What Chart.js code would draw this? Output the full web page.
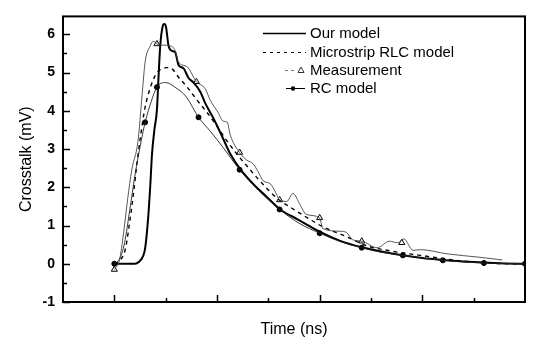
<!DOCTYPE html>
<html>
<head>
<meta charset="utf-8">
<script src="https://cdn.jsdelivr.net/npm/chart.js@4.4.1/dist/chart.umd.min.js"></script>
<style>
html,body{margin:0;padding:0;background:#fff;}
#wrap{position:relative;width:541px;height:352px;}
</style>
</head>
<body>
<div id="wrap"><canvas id="c" width="541" height="352"></canvas></div>
<script>
// ---- data ----
const seriesNames = ["Our model", "Microstrip RLC model", "Measurement", "RC model"];
const yTickValues = [-1, 0, 1, 2, 3, 4, 5, 6];

const ourX = [0, 0.1, 0.2, 0.24, 0.28, 0.3, 0.33, 0.35, 0.367, 0.39, 0.415, 0.43, 0.447, 0.47, 0.487, 0.503, 0.528, 0.561, 0.593, 0.625, 0.674, 0.723, 0.771, 0.837, 0.885, 0.966, 1.05, 1.13, 1.23, 1.355, 1.485, 1.615, 1.78, 1.91, 2.0, 2.2, 2.41, 2.6, 2.81, 3.0, 3.2, 3.4, 3.6, 3.8, 4.0];
const ourY = [0, 0, 0, 0.05, 0.2, 0.4, 1.22, 2.04, 2.87, 3.5, 4.03, 4.86, 5.7, 6.2, 6.27, 6.2, 5.7, 5.57, 5.53, 5.2, 5.11, 4.86, 4.74, 4.5, 4.2, 3.8, 3.33, 2.87, 2.46, 2.08, 1.75, 1.42, 1.17, 0.97, 0.84, 0.6, 0.43, 0.32, 0.22, 0.15, 0.1, 0.06, 0.03, 0.01, 0];

const rlcX = [0, 0.05, 0.107, 0.156, 0.188, 0.22, 0.253, 0.3, 0.35, 0.4, 0.45, 0.51, 0.565, 0.625, 0.71, 0.8, 0.89, 1.0, 1.1, 1.2, 1.3, 1.4, 1.5, 1.6, 1.75, 1.9, 2.03, 2.26, 2.46, 2.68, 2.98, 3.3, 3.56, 3.9, 4.0];
const rlcY = [0, 0.08, 0.38, 1.22, 1.87, 2.62, 3.29, 4.1, 4.6, 4.93, 5.08, 5.13, 5.09, 4.88, 4.62, 4.3, 4.0, 3.6, 3.2, 2.85, 2.53, 2.22, 1.93, 1.68, 1.42, 1.17, 0.97, 0.71, 0.47, 0.34, 0.22, 0.1, 0.03, 0, 0];

const measX = [0, 0.05, 0.09, 0.13, 0.17, 0.23, 0.27, 0.3, 0.35, 0.38, 0.415, 0.47, 0.545, 0.593, 0.623, 0.71, 0.8, 0.885, 0.934, 1.01, 1.06, 1.1, 1.13, 1.22, 1.29, 1.35, 1.4, 1.45, 1.52, 1.57, 1.61, 1.68, 1.74, 1.81, 1.87, 2.0, 2.03, 2.2, 2.26, 2.32, 2.41, 2.56, 2.68, 2.76, 2.82, 2.91, 2.98, 3.24, 3.56, 3.78];
const measY = [-0.15, 0.1, 0.8, 1.7, 2.46, 3.2, 4.4, 5.28, 5.7, 5.82, 5.75, 5.72, 5.7, 5.57, 5.28, 5.15, 4.76, 4.58, 4.28, 3.96, 3.73, 3.7, 3.36, 2.91, 2.71, 2.62, 2.41, 2.17, 2.09, 1.87, 1.67, 1.63, 1.84, 1.54, 1.29, 1.2, 0.92, 0.85, 0.82, 0.63, 0.59, 0.42, 0.59, 0.55, 0.65, 0.35, 0.37, 0.26, 0.17, 0.1];
const measMarkX = [0, 0.415, 0.8, 1.22, 1.61, 2.0, 2.41, 2.8];
const measMarkY = [-0.15, 5.75, 4.76, 2.91, 1.67, 1.2, 0.59, 0.55];

const rcX = [0, 0.05, 0.1, 0.15, 0.2, 0.25, 0.3, 0.36, 0.415, 0.5, 0.6, 0.7, 0.82, 0.94, 1.06, 1.22, 1.4, 1.61, 1.8, 2.0, 2.2, 2.41, 2.6, 2.81, 3.0, 3.2, 3.4, 3.6, 3.8, 4.0];
const rcY = [0, 0.12, 0.55, 1.4, 2.3, 3.05, 3.7, 4.25, 4.62, 4.74, 4.6, 4.37, 3.83, 3.45, 3.04, 2.46, 1.93, 1.42, 1.06, 0.8, 0.58, 0.42, 0.3, 0.22, 0.15, 0.09, 0.05, 0.02, 0.01, 0];
const rcMarkX = [0, 0.3, 0.415, 0.82, 1.22, 1.61, 2.0, 2.41, 2.81, 3.2, 3.6, 4.0];
const rcMarkY = [0, 3.7, 4.62, 3.83, 2.46, 1.42, 0.8, 0.42, 0.22, 0.09, 0.02, 0];

// ---- build ----
const pts = (xs, ys) => xs.map((x, i) => ({x: x, y: ys[i]}));

const frameAndTicks = {
  id: 'frameAndTicks',
  afterDatasetsDraw(chart) {
    const {ctx, chartArea: a, scales: {x, y}} = chart;
    ctx.save();
    ctx.strokeStyle = '#000';
    ctx.lineWidth = 2;
    ctx.strokeRect(a.left, a.top, a.right - a.left, a.bottom - a.top);
    ctx.lineWidth = 1.5;
    ctx.beginPath();
    for (let v = -1; v <= 6; v += 0.5) {
      const p = Math.round(y.getPixelForValue(v)) + 0.5;
      const len = Number.isInteger(v) ? 7 : 4;
      ctx.moveTo(a.left, p); ctx.lineTo(a.left + len, p);
    }
    for (let v = 0; v <= 3.5; v += 0.5) {
      const p = Math.round(x.getPixelForValue(v)) + 0.5;
      const len = Number.isInteger(v) ? 7 : 4;
      ctx.moveTo(p, a.bottom); ctx.lineTo(p, a.bottom - len);
    }
    ctx.stroke();
    ctx.restore();
  }
};

const legendPlugin = {
  id: 'customLegend',
  afterDraw(chart) {
    const ctx = chart.ctx;
    ctx.save();
    ctx.fillStyle = '#000';
    ctx.strokeStyle = '#000';
    ctx.font = '15px "Liberation Sans", Arial, sans-serif';
    ctx.textBaseline = 'middle';
    ctx.textAlign = 'left';
    const tx = 310;
    const rows = [33, 52, 70, 88];
    // Our model
    ctx.lineWidth = 1.3; ctx.setLineDash([]);
    ctx.beginPath(); ctx.moveTo(263, rows[0] + 0.5); ctx.lineTo(306, rows[0] + 0.5); ctx.stroke();
    // Microstrip
    ctx.lineWidth = 1; ctx.setLineDash([3, 4]);
    ctx.beginPath(); ctx.moveTo(263, rows[1] + 0.5); ctx.lineTo(306, rows[1] + 0.5); ctx.stroke();
    // Measurement
    ctx.strokeStyle = '#777'; ctx.setLineDash([3, 3]);
    ctx.beginPath(); ctx.moveTo(285, rows[2] + 0.5); ctx.lineTo(297, rows[2] + 0.5); ctx.stroke();
    ctx.setLineDash([]); ctx.strokeStyle = '#333';
    ctx.beginPath(); ctx.moveTo(301, rows[2] - 3); ctx.lineTo(304, rows[2] + 2.5); ctx.lineTo(298, rows[2] + 2.5); ctx.closePath(); ctx.stroke();
    // RC
    ctx.strokeStyle = '#000'; ctx.lineWidth = 1;
    ctx.beginPath(); ctx.moveTo(286, rows[3] + 0.5); ctx.lineTo(305, rows[3] + 0.5); ctx.stroke();
    ctx.beginPath(); ctx.arc(293, rows[3] + 0.5, 2.2, 0, Math.PI * 2); ctx.fill();
    seriesNames.forEach((n, i) => ctx.fillText(n, tx, rows[i] + 1));
    ctx.restore();
  }
};

new Chart(document.getElementById('c'), {
  type: 'scatter',
  data: {
    datasets: [
      { label: seriesNames[2], data: pts(measX, measY), showLine: true, borderColor: '#444', borderWidth: 0.9, pointRadius: 0, tension: 0.3, cubicInterpolationMode: 'monotone' },
      { label: seriesNames[3], data: pts(rcX, rcY), showLine: true, borderColor: '#222', borderWidth: 0.9, pointRadius: 0, tension: 0.3, cubicInterpolationMode: 'monotone' },
      { label: seriesNames[1], data: pts(rlcX, rlcY), showLine: true, borderColor: '#000', borderWidth: 1.4, borderDash: [4, 4], pointRadius: 0, tension: 0.3, cubicInterpolationMode: 'monotone' },
      { label: seriesNames[0], data: pts(ourX, ourY), showLine: true, borderColor: '#000', borderWidth: 2, pointRadius: 0, tension: 0.3, cubicInterpolationMode: 'monotone' },
      { label: seriesNames[2] + ' markers', data: pts(measMarkX, measMarkY), showLine: false, pointStyle: 'triangle', pointRadius: 3.5, backgroundColor: '#fff', borderColor: '#000', borderWidth: 1 },
      { label: seriesNames[3] + ' markers', data: pts(rcMarkX, rcMarkY), showLine: false, pointStyle: 'circle', pointRadius: 2.5, backgroundColor: '#000', borderColor: '#000', borderWidth: 1 }
    ]
  },
  options: {
    responsive: false,
    devicePixelRatio: 1,
    animation: false,
    layout: { padding: { top: 2, right: 16, left: 0, bottom: 0 } },
    plugins: { legend: { display: false }, tooltip: { enabled: false } },
    scales: {
      x: {
        type: 'linear', min: -0.5, max: 4,
        grid: { display: false, drawTicks: false },
        border: { display: false },
        ticks: { display: false },
        title: { display: true, text: 'Time (ns)', color: '#000', font: { family: '"Liberation Sans", Arial, sans-serif', size: 16 }, padding: { top: 0, bottom: 13 } },
        afterFit(s) { s.height = 50; }
      },
      y: {
        type: 'linear', min: -1, max: 6.47,
        grid: { display: false, drawTicks: false },
        border: { display: false },
        afterBuildTicks(s) { s.ticks = yTickValues.map(v => ({value: v})); },
        ticks: { color: '#000', padding: 8, font: { family: '"Liberation Sans", Arial, sans-serif', size: 14, weight: 'bold' } },
        title: { display: true, text: 'Crosstalk (mV)', color: '#000', font: { family: '"Liberation Sans", Arial, sans-serif', size: 16 }, padding: { top: 17, bottom: 0 } },
        afterFit(s) { s.width = 63; }
      }
    }
  },
  plugins: [frameAndTicks, legendPlugin]
});
</script>
</body>
</html>
